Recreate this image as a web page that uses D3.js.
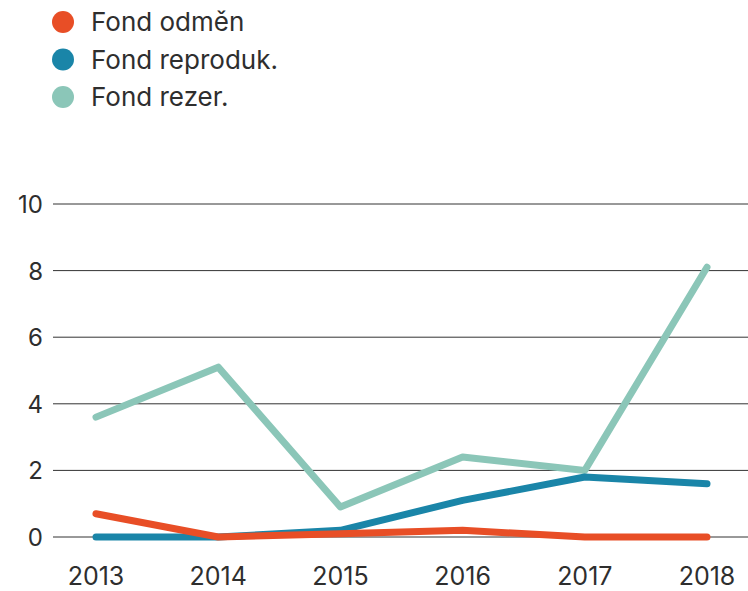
<!DOCTYPE html>
<html>
<head>
<meta charset="utf-8">
<script src="https://cdn.jsdelivr.net/npm/d3@7"></script>
<style>
  body { margin: 0; background: #fff; }
  svg { display: block; }
  text { font-family: Inter, Roboto, "Liberation Sans", sans-serif; fill: #2e2e2e; }
</style>
</head>
<body>
<svg id="chart" width="748" height="591"></svg>
<script>
const years = ["2013", "2014", "2015", "2016", "2017", "2018"];
const legendLabels = ["Fond odměn", "Fond reproduk.", "Fond rezer."];
const colors = ["#e84e26", "#1a85a8", "#8bc6b8"];
const odmen = [0.7, 0, 0.1, 0.2, 0, 0];
const reproduk = [0, 0, 0.2, 1.1, 1.8, 1.6];
const rezer = [3.6, 5.1, 0.9, 2.4, 2.0, 8.1];
const yTicks = [0, 2, 4, 6, 8, 10];

const svg = d3.select("#chart");
const w = 748;

const x = d3.scalePoint().domain(years).range([96, 707]);
const y = d3.scaleLinear().domain([0, 10]).range([537, 204]);

// grid lines + y labels
const grid = svg.append("g");
grid.selectAll("line")
  .data(yTicks)
  .enter()
  .append("line")
  .attr("x1", 53)
  .attr("x2", w)
  .attr("y1", d => y(d))
  .attr("y2", d => y(d))
  .attr("stroke", "#333")
  .attr("stroke-width", 1);

grid.selectAll("text")
  .data(yTicks)
  .enter()
  .append("text")
  .text(d => d)
  .attr("x", 43)
  .attr("y", d => y(d) + 9)
  .attr("text-anchor", "end")
  .attr("font-size", "24px");

// x labels
svg.append("g")
  .selectAll("text")
  .data(years)
  .enter()
  .append("text")
  .text(d => d)
  .attr("x", d => x(d))
  .attr("y", 585)
  .attr("text-anchor", "middle")
  .attr("font-size", "25px");

// lines, drawn back to front
const line = d3.line()
  .x((d, i) => x(years[i]))
  .y(d => y(d));

const order = [[rezer, colors[2]], [reproduk, colors[1]], [odmen, colors[0]]];
order.forEach(([vals, c]) => {
  svg.append("path")
    .attr("d", line(vals))
    .attr("fill", "none")
    .attr("stroke", c)
    .attr("stroke-width", 7)
    .attr("stroke-linecap", "round")
    .attr("stroke-linejoin", "round");
});

// legend
const legend = svg.append("g");
legendLabels.forEach((lab, i) => {
  const ly = 22 + i * 37.5;
  legend.append("circle")
    .attr("cx", 63)
    .attr("cy", ly)
    .attr("r", 11)
    .attr("fill", colors[i]);
  legend.append("text")
    .text(lab)
    .attr("x", 91)
    .attr("y", ly + 9)
    .attr("font-size", "26px");
});
</script>
</body>
</html>
